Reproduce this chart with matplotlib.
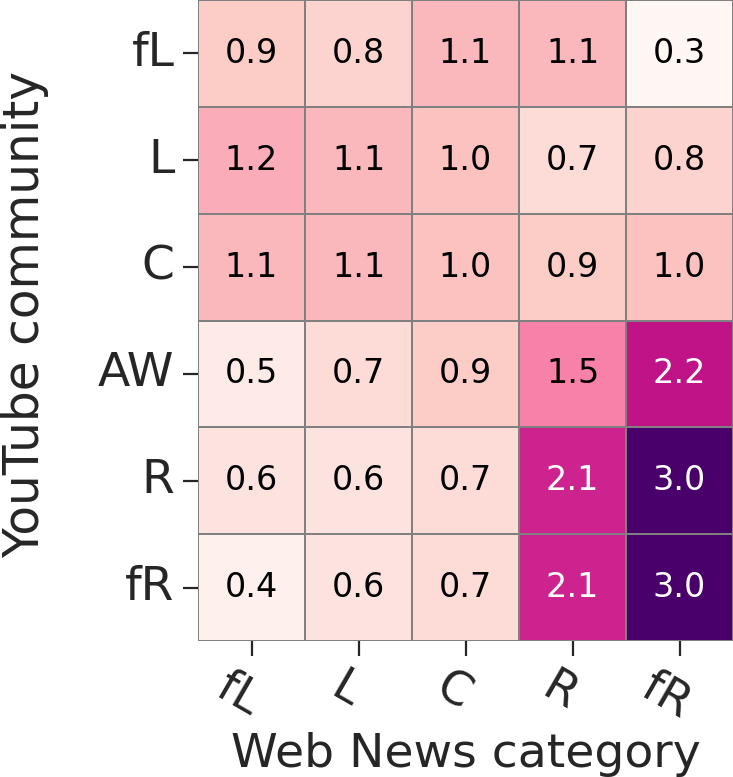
import matplotlib
matplotlib.use("Agg")
import matplotlib.pyplot as plt
import matplotlib.transforms as mtransforms
import seaborn as sns
import numpy as np

rows = ["fL", "L", "C", "AW", "R", "fR"]
cols = ["fL", "L", "C", "R", "fR"]
values = [
    [0.9, 0.8, 1.1, 1.1, 0.3],
    [1.2, 1.1, 1.0, 0.7, 0.8],
    [1.1, 1.1, 1.0, 0.9, 1.0],
    [0.5, 0.7, 0.9, 1.5, 2.2],
    [0.6, 0.6, 0.7, 2.1, 3.0],
    [0.4, 0.6, 0.7, 2.1, 3.0],
]

sns.set_style("ticks")
plt.rcParams['font.family'] = ['DejaVu Sans']

fig = plt.figure(figsize=(7.33, 7.77), dpi=100)
ax = fig.add_axes([198/733, 1 - 641/777, 535/733, 641/777])
data = np.array(values)
sns.heatmap(data, ax=ax, cmap="RdPu", annot=False, cbar=False,
            linewidths=1.2, linecolor="grey")
for i in range(data.shape[0]):
    for j in range(data.shape[1]):
        v = data[i, j]
        ax.text(j + 0.5, i + 0.5, "%.1f" % v, ha="center", va="center",
                fontsize=24, color="white" if v >= 2.0 else "black")

ax.set_xticks(np.arange(len(cols)) + 0.5)
ax.set_xticklabels(cols, rotation=-30, fontsize=33,
                   color="#262626", ha="center")
ax.set_yticks(np.arange(len(rows)) + 0.5)
ax.set_yticklabels(rows, rotation=0, fontsize=34, color="#262626")
ax.tick_params(axis="both", length=11, width=1.6, color="#262626", pad=6)
offset = mtransforms.ScaledTranslation(-13/100, 0, fig.dpi_scale_trans)
for lab in ax.get_xticklabels():
    lab.set_transform(lab.get_transform() + offset)
ax.set_xlabel("Web News category", fontsize=34, color="#262626")
ax.set_ylabel("YouTube community", fontsize=35, color="#262626")
ax.xaxis.set_label_coords(0.5, -0.142)
ax.yaxis.set_label_coords(-0.278, 0.509)
fig.savefig("out.png", dpi=100)
